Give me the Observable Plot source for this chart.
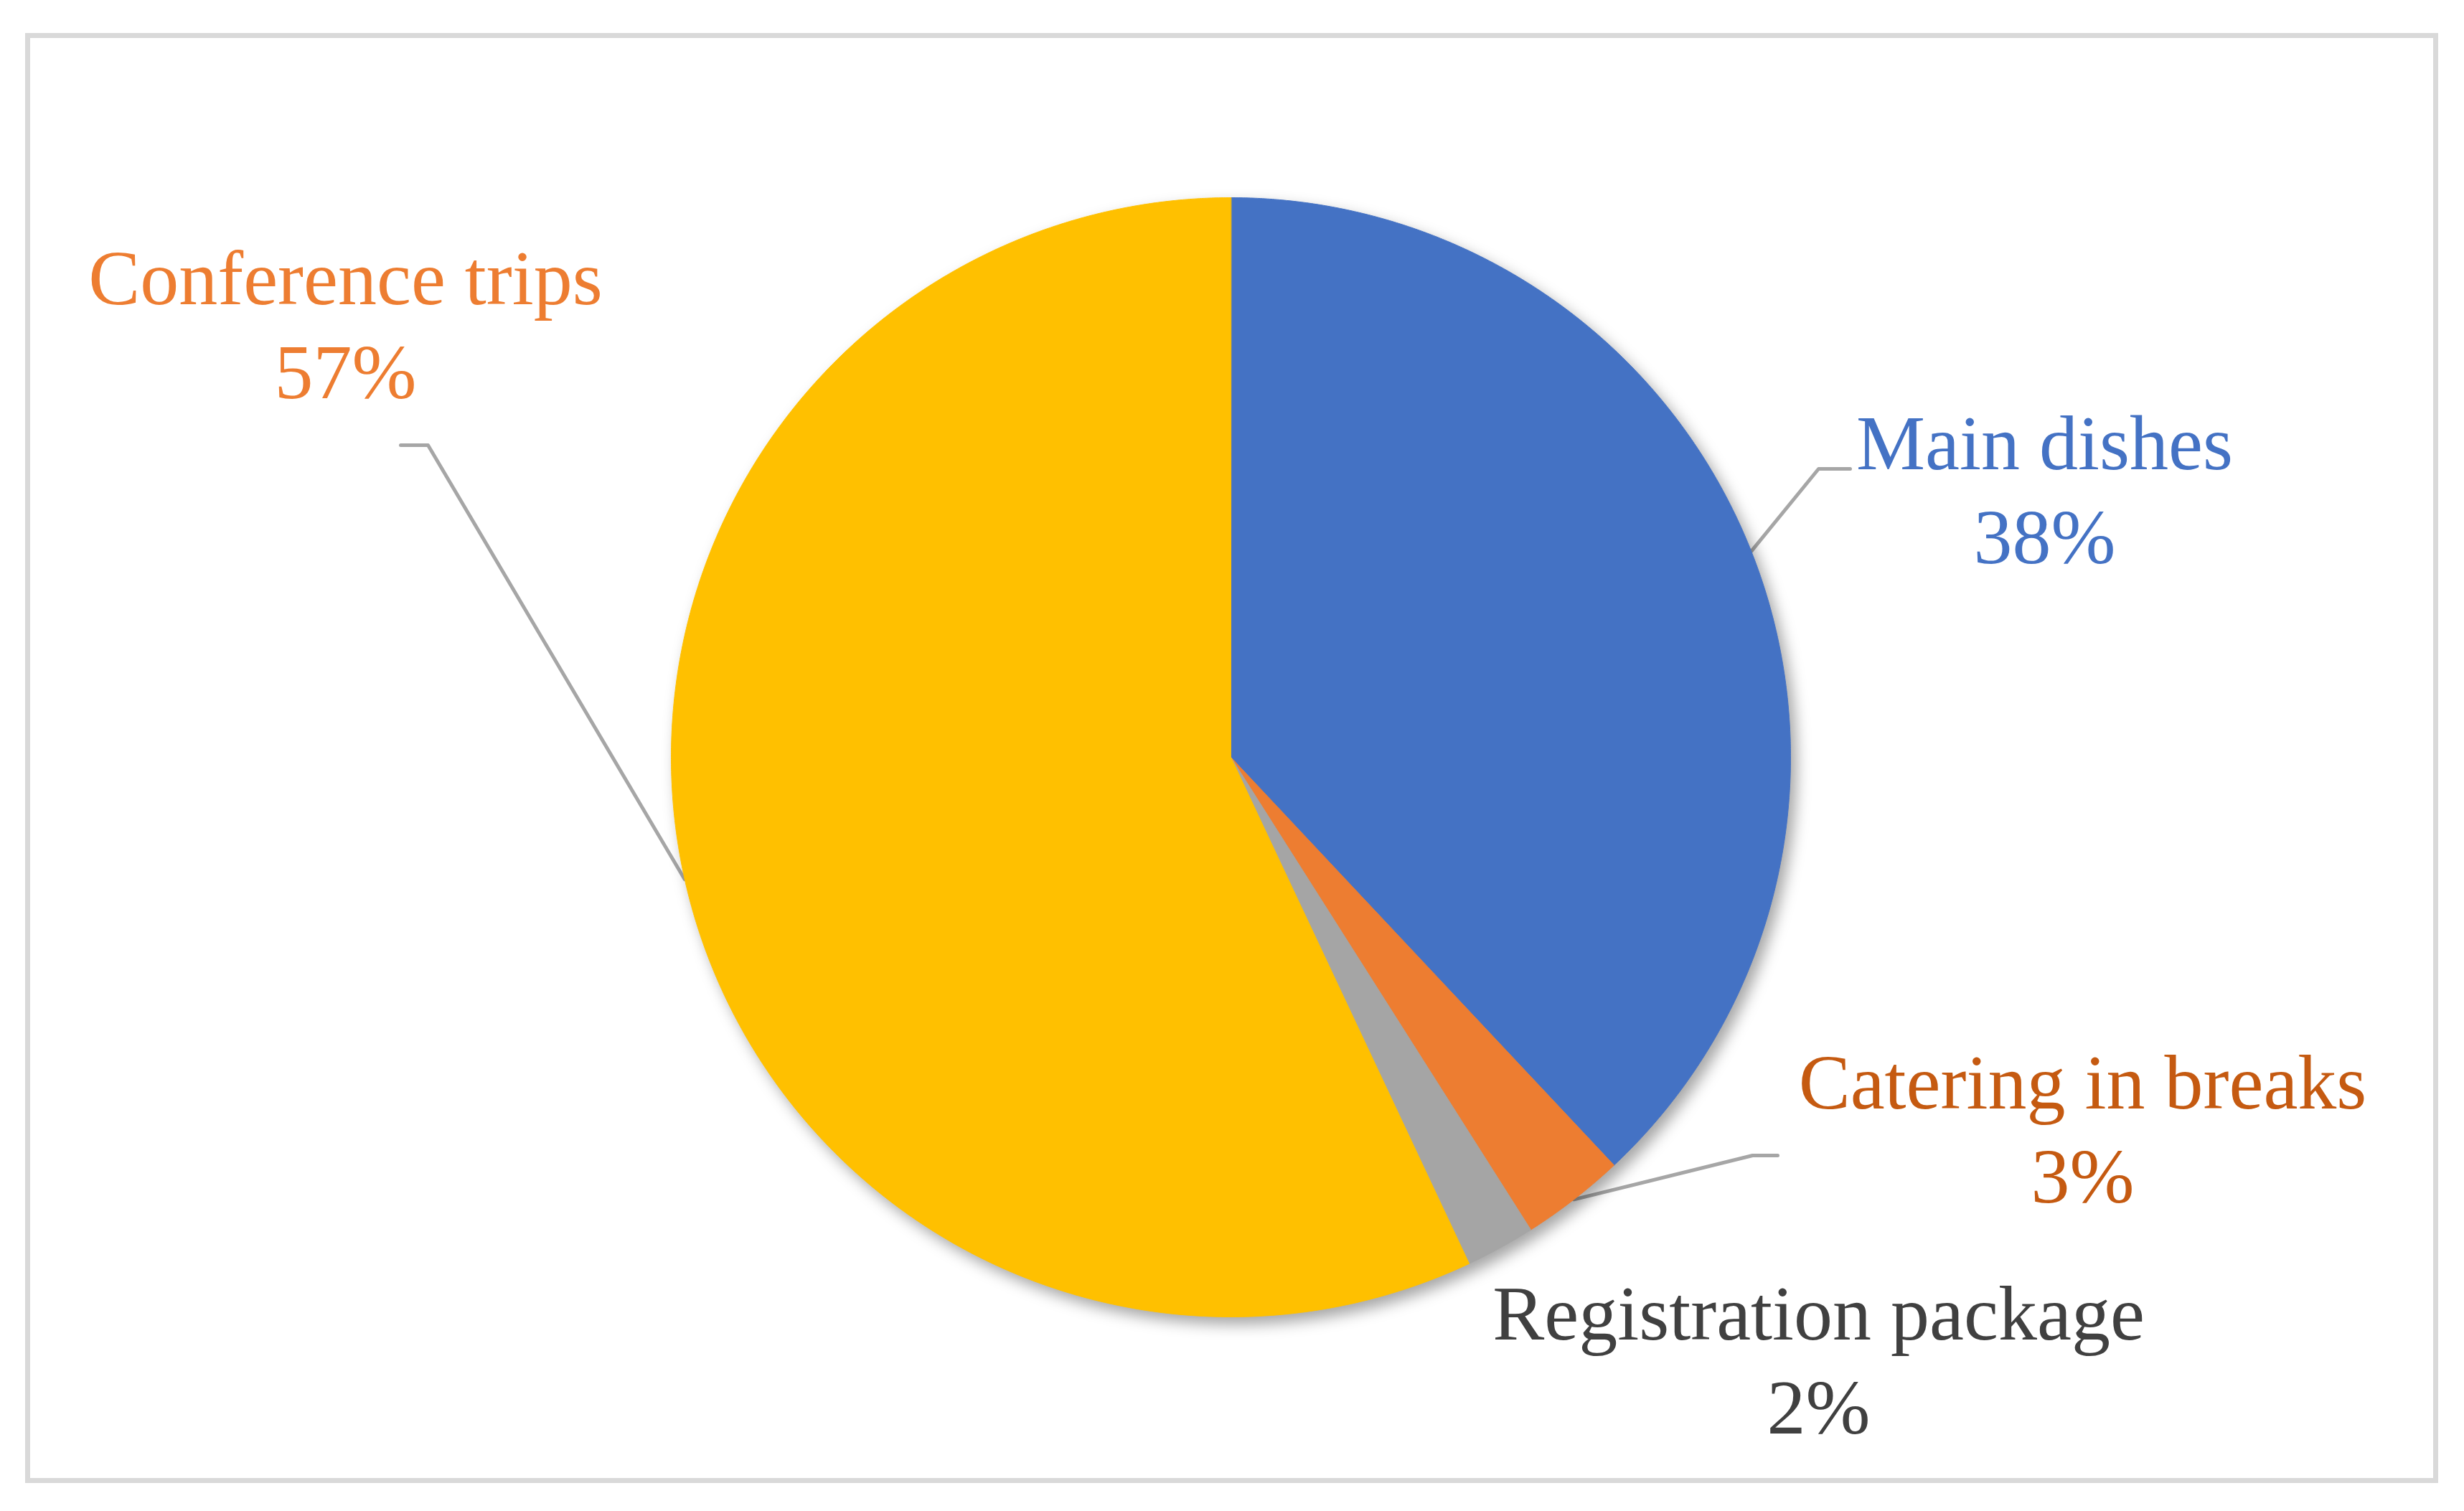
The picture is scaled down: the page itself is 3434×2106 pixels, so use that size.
<!DOCTYPE html>
<html>
<head>
<meta charset="utf-8">
<script src="https://cdn.jsdelivr.net/npm/d3@7"></script>
<script src="https://cdn.jsdelivr.net/npm/@observablehq/plot@0.6"></script>
<style>
html, body { margin: 0; padding: 0; background: #fff; overflow: hidden; }
.pie { filter: drop-shadow(8px 10px 10px rgba(0,0,0,0.35)); }
</style>
</head>
<body>
<div id="chart"></div>
<script>
// ---- data ----
const categories = ["Main dishes", "Catering in breaks", "Registration package", "Conference trips"];
const shares = [38, 3, 2, 57];
const percentLabels = ["38%", "3%", "2%", "57%"];
const sliceColors = ["#4472C4", "#ED7D31", "#A5A5A5", "#FFC000"];
const labelColors = ["#4472C4", "#C55A11", "#404040", "#ED7D31"];

// ---- layout ----
const W = 3434, H = 2106;
const CX = 1715, CY = 1055, R = 780; // pie centre and radius in pixels
const toU = px => (px - CX) / R;
const toV = py => (CY - py) / R;
// label anchor (centre x, baseline of the percentage line) and leader elbow points
const labelLayout = {
  "Main dishes":          { x: toU(2849), y: toV(784),  leader: [[toU(2534), toV(653)], [toU(2578), toV(653)]] },
  "Catering in breaks":   { x: toU(2902), y: toV(1675), leader: [[toU(2442), toV(1610)], [toU(2477), toV(1610)]] },
  "Registration package": { x: toU(2534), y: toV(1997), leader: null },
  "Conference trips":     { x: toU(481),  y: toV(554),  leader: [[toU(596), toV(620)], [toU(558), toV(620)]] }
};

// ---- derived geometry from data ----
const total = d3.sum(shares);
let acc = 0;
const slices = categories.map((c, i) => {
  const a0 = acc / total * 2 * Math.PI;
  acc += shares[i];
  const a1 = acc / total * 2 * Math.PI;
  return { c, i, a0, a1, mid: (a0 + a1) / 2 };
});
const piePts = slices.flatMap(s => {
  const n = Math.max(2, Math.ceil((s.a1 - s.a0) / (Math.PI / 720)));
  const pts = [{ c: s.c, x: 0, y: 0 }];
  for (let k = 0; k <= n; k++) {
    const a = s.a0 + (s.a1 - s.a0) * k / n;
    pts.push({ c: s.c, x: Math.sin(a), y: Math.cos(a) });
  }
  return pts;
});
const leaderPts = slices.filter(s => labelLayout[s.c].leader).flatMap(s => {
  const L = labelLayout[s.c].leader;
  return [{ c: s.c, x: Math.sin(s.mid), y: Math.cos(s.mid) }, ...L.map(([x, y]) => ({ c: s.c, x, y }))];
});

const fontSize = 108;
const labelMarks = slices.map(s => Plot.text([s], {
  x: d => labelLayout[d.c].x,
  y: d => labelLayout[d.c].y,
  text: d => d.c + "\n" + percentLabels[d.i],
  fill: labelColors[s.i],
  fontSize,
  fontFamily: "Liberation Serif, DejaVu Serif, serif",
  lineAnchor: "bottom",
  lineHeight: 131 / fontSize,
  textAnchor: "middle"
}));

const chart = Plot.plot({
  width: W,
  height: H,
  margin: 0,
  x: { domain: [toU(0), toU(W)], range: [0, W], axis: null },
  y: { domain: [toV(H), toV(0)], range: [H, 0], axis: null },
  color: { domain: categories, range: sliceColors },
  style: { background: "#fff" },
  marks: [
    Plot.frame({ stroke: "#d9d9d9", strokeWidth: 7, insetLeft: 38, insetTop: 49, insetRight: 40, insetBottom: 43 }),
    Plot.line(leaderPts, { x: "x", y: "y", z: "c", stroke: "#A6A6A6", strokeWidth: 5 }),
    Plot.line(piePts, { x: "x", y: "y", z: "c", fill: "c", stroke: "c", strokeWidth: 1, curve: "linear-closed", className: "pie" }),
    ...labelMarks
  ]
});
document.getElementById("chart").appendChild(chart);
</script>
</body>
</html>
